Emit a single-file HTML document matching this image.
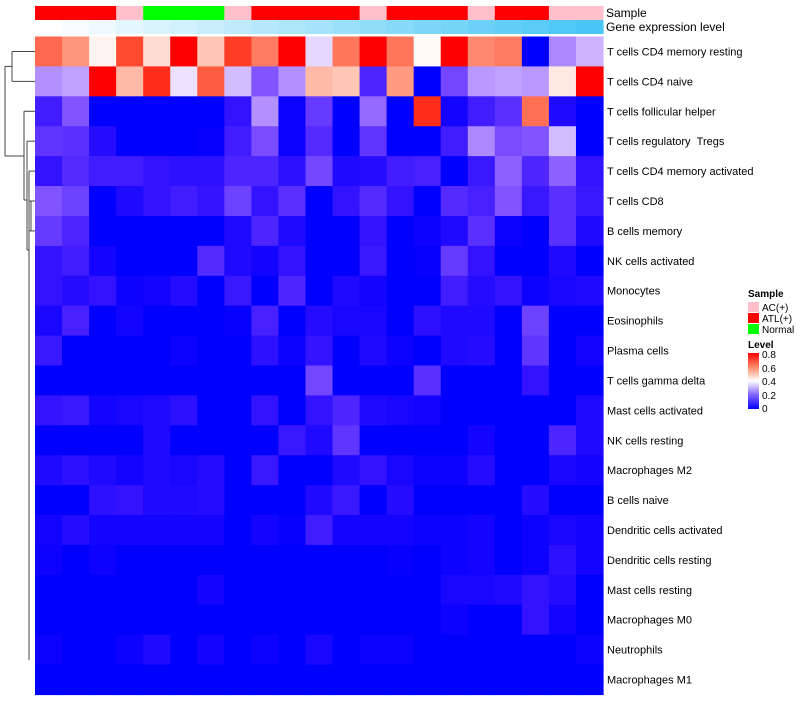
<!DOCTYPE html>
<html><head><meta charset="utf-8"><style>
body{margin:0;background:#fff;}
svg text{font-family:"Liberation Sans",sans-serif;}
</style></head><body>
<svg id="chart" width="800" height="700" xmlns="http://www.w3.org/2000/svg">
<defs>
<linearGradient id="lvl" x1="0" y1="1" x2="0" y2="0">
<stop offset="0" stop-color="#0000ff"/><stop offset="0.25" stop-color="#8060ff"/><stop offset="0.5" stop-color="#ffffff"/><stop offset="0.75" stop-color="#ff8866"/><stop offset="1" stop-color="#ff0000"/>
</linearGradient>
</defs>
<g id="cells"></g>
<g id="annot"></g>
<g id="labels"></g>
<g id="dendro" stroke="#444" stroke-width="1" fill="none"></g>
<text x="606" y="17" font-size="12">Sample</text>
<text x="606" y="31" font-size="12">Gene expression level</text>
<g font-size="10">
<text x="748" y="297" font-weight="bold">Sample</text>
<rect x="748" y="302" width="11" height="10" fill="#ffc0cb"/>
<text x="762" y="311">AC(+)</text>
<rect x="748" y="313" width="11" height="10" fill="#ff0000"/>
<text x="762" y="322">ATL(+)</text>
<rect x="748" y="324" width="11" height="10" fill="#00ff00"/>
<text x="762" y="333">Normal</text>
<text x="748" y="348" font-weight="bold">Level</text>
<rect x="748" y="353" width="11" height="56" fill="url(#lvl)"/>
<text x="762" y="358">0.8</text>
<text x="762" y="372">0.6</text>
<text x="762" y="385">0.4</text>
<text x="762" y="399">0.2</text>
<text x="762" y="412">0</text>
</g>
</svg>
<script>
const rowNames=["T cells CD4 memory resting","T cells CD4 naive","T cells follicular helper","T cells regulatory\u00a0\u00a0Tregs","T cells CD4 memory activated","T cells CD8","B cells memory","NK cells activated","Monocytes","Eosinophils","Plasma cells","T cells gamma delta","Mast cells activated","NK cells resting","Macrophages M2","B cells naive","Dendritic cells activated","Dendritic cells resting","Mast cells resting","Macrophages M0","Neutrophils","Macrophages M1"];
const sampleGroups=["ATL","ATL","ATL","AC","Normal","Normal","Normal","AC","ATL","ATL","ATL","ATL","AC","ATL","ATL","ATL","AC","ATL","ATL","AC","AC"];
const r1=[0.65,0.58,0.42,0.7,0.46,0.8,0.5,0.72,0.62,0.8,0.36,0.63,0.8,0.63,0.41,0.8,0.6,0.62,0,0.27,0.32];
const r2=[0.28,0.3,0.8,0.52,0.74,0.37,0.67,0.33,0.2,0.28,0.52,0.5,0.12,0.57,0,0.18,0.29,0.3,0.29,0.44,0.8];
const r3=[0.1,0.2,0,0,0,0,0,0.08,0.28,0.02,0.16,0,0.23,0,0.74,0.03,0.1,0.14,0.64,0.05,0];
const r4=[0.15,0.14,0.06,0,0,0,0.01,0.1,0.19,0.02,0.13,0,0.15,0,0,0.1,0.27,0.19,0.2,0.33,0];
const r5=[0.08,0.13,0.1,0.1,0.08,0.07,0.07,0.12,0.12,0.07,0.18,0.05,0.06,0.1,0.11,0,0.09,0.22,0.12,0.22,0.08];
const r6=[0.2,0.17,0,0.05,0.08,0.1,0.08,0.17,0.08,0.14,0,0.08,0.13,0.08,0,0.13,0.11,0.2,0.09,0.14,0.09];
const r7=[0.16,0.12,0,0,0,0,0,0.05,0.12,0.05,0,0,0.08,0,0.02,0.05,0.14,0.02,0,0.14,0.05];
const r8=[0.08,0.1,0.03,0,0,0,0.13,0.05,0.03,0.08,0,0,0.09,0,0.01,0.16,0.08,0,0,0.05,0];
const r9=[0.08,0.06,0.08,0.02,0.03,0.06,0,0.09,0,0.12,0,0.05,0.03,0,0,0.1,0.06,0.08,0.02,0.04,0.05];
const r10=[0.04,0.11,0,0.03,0,0,0,0.01,0.11,0,0.06,0.04,0.04,0,0.07,0.05,0.05,0,0.17,0,0];
const r11=[0.09,0,0,0,0,0.02,0,0,0.07,0.02,0.08,0,0.05,0.02,0,0.05,0.06,0,0.15,0,0.03];
const r12=[0,0,0,0,0,0,0,0,0,0,0.18,0,0,0,0.14,0,0,0,0.08,0,0];
const r13=[0.08,0.09,0.03,0.04,0.05,0.07,0,0,0.08,0,0.08,0.12,0.05,0.04,0.03,0,0,0,0,0,0.05];
const r14=[0,0,0,0,0.05,0,0,0,0,0.09,0.05,0.15,0,0,0,0,0.03,0,0,0.12,0.05];
const r15=[0.05,0.07,0.05,0.03,0.05,0.04,0.06,0,0.09,0,0,0.05,0.08,0.04,0.02,0.02,0.06,0,0,0.04,0.03];
const r16=[0,0,0.07,0.08,0.05,0.05,0.06,0,0,0,0.05,0.09,0,0.06,0,0,0,0,0.06,0,0];
const r17=[0.03,0.06,0.03,0.03,0.03,0.03,0.03,0,0.03,0.01,0.1,0.03,0.03,0.03,0.02,0.02,0.03,0,0.02,0.04,0.03];
const r18=[0.02,0,0.02,0,0,0,0,0,0,0,0,0,0,0.01,0,0.02,0.03,0,0.02,0.07,0.03];
const r19=[0,0,0,0,0,0,0.03,0,0,0,0,0,0,0,0,0.04,0.04,0.05,0.08,0.06,0];
const r20=[0,0,0,0,0,0,0,0,0,0,0,0,0,0,0,0.02,0,0,0.08,0.03,0];
const r21=[0.02,0,0,0.02,0.05,0,0.03,0,0.02,0,0.04,0,0.02,0.02,0,0,0,0,0,0,0.02];
const r22=[0,0,0,0,0,0,0,0,0,0,0,0,0,0,0,0,0,0,0,0,0];
const values=[r1,r2,r3,r4,r5,r6,r7,r8,r9,r10,r11,r12,r13,r14,r15,r16,r17,r18,r19,r20,r21,r22];

const NS="http://www.w3.org/2000/svg";
const X0=35,X1=603,Y0=36.5,Y1=694.5;
const nCol=sampleGroups.length,nRow=rowNames.length;
const cw=(X1-X0)/nCol,rh=(Y1-Y0)/nRow;
const xPos=c=>X0+c*cw, yPos=r=>Y0+r*rh;
function colorOf(v){
  v=Math.max(0,Math.min(0.8,v));
  if(v<=0.4){const t=v/0.4;
    return `rgb(${Math.round(255*t)},${Math.round(255*Math.pow(t,1.6))},255)`;}
  const t=1-(v-0.4)/0.4;
  return `rgb(255,${Math.round(255*Math.pow(t,0.9))},${Math.round(255*Math.pow(t,1.2))})`;
}
const cells=document.getElementById('cells');
values.forEach((row,r)=>row.forEach((v,c)=>{
  const e=document.createElementNS(NS,'rect');
  e.setAttribute('x',xPos(c));e.setAttribute('y',yPos(r));
  e.setAttribute('width',cw+0.6);e.setAttribute('height',rh+0.6);
  e.setAttribute('fill',colorOf(v));
  
  
  cells.appendChild(e);
}));
const groupColor={AC:"#ffc0cb",ATL:"#ff0000",Normal:"#00ff00"};
const annot=document.getElementById('annot');
sampleGroups.forEach((g,c)=>{
  const e=document.createElementNS(NS,'rect');
  e.setAttribute('x',xPos(c));e.setAttribute('y',6);
  e.setAttribute('width',cw+0.6);e.setAttribute('height',14);
  e.setAttribute('fill',groupColor[g]);
  
  
  annot.appendChild(e);
  const t=c/(nCol-1);
  const e2=document.createElementNS(NS,'rect');
  e2.setAttribute('x',xPos(c));e2.setAttribute('y',20);
  e2.setAttribute('width',cw+0.6);e2.setAttribute('height',14);
  e2.setAttribute('fill',`rgb(${Math.round(255-(255-72)*t)},${Math.round(255-(255-198)*t)},${Math.round(255-(255-245)*t)})`);
  
  
  annot.appendChild(e2);
});
const labels=document.getElementById('labels');
rowNames.forEach((n,r)=>{
  const t=document.createElementNS(NS,'text');
  t.setAttribute('x',607);t.setAttribute('y',yPos(r)+rh/2+4);
  t.setAttribute('font-size','11');t.textContent=n;
  
  
  labels.appendChild(t);
});
const yc=r=>yPos(r)+rh/2;
const segs=[
 [12,yc(0),35,yc(0)],[12,yc(1),35,yc(1)],[12,yc(0),12,yc(1)],
 [5,(yc(0)+yc(1))/2,12,(yc(0)+yc(1))/2],
 [5,(yc(0)+yc(1))/2,5,156],
 [5,156,24,156],
 [24,yc(2),35,yc(2)],[24,yc(2),24,200],
 [24,200,27,200],
 [27,yc(3),35,yc(3)],[27,yc(3),27,250],
 [27,250,29,250],[29,yc(4),35,yc(4)],[29,yc(4),29,660],
 [29,yc(5),35,yc(5)],[29,yc(6),35,yc(6)],[31,yc(5),31,yc(6)]
];
const dendro=document.getElementById('dendro');
segs.forEach(s=>{
  const l=document.createElementNS(NS,'line');
  l.setAttribute('x1',s[0]);l.setAttribute('y1',s[1]);l.setAttribute('x2',s[2]);l.setAttribute('y2',s[3]);
  
  
  dendro.appendChild(l);
});
</script>
</body></html>
